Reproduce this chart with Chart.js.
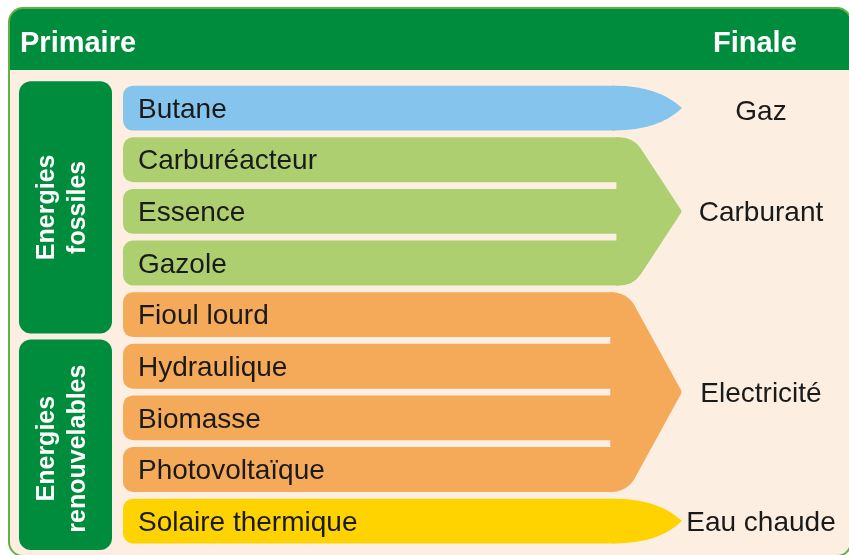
<!DOCTYPE html>
<html>
<head>
<meta charset="utf-8">
<script src="https://cdn.jsdelivr.net/npm/chart.js@4.4.0/dist/chart.umd.min.js"></script>
<style>
  html, body { margin: 0; padding: 0; background: #fff; }
  #flow { display: block; }
</style>
</head>
<body>
<canvas id="flow" width="849" height="555"></canvas>
<script>
// Energies primaires (une ligne par source)
const primarySources = ["Butane", "Carburéacteur", "Essence", "Gazole", "Fioul lourd",
  "Hydraulique", "Biomasse", "Photovoltaïque", "Solaire thermique"];
// longueur des bandes, avant la pointe (echelle 0-100)
const barLengths = [88, 88.8, 88.8, 88.8, 87.7, 87.7, 87.7, 87.7, 88];
const tipValue = 100;

// Energies finales, et combien de sources chacune regroupe
const finalEnergies = ["Gaz", "Carburant", "Electricité", "Eau chaude"];
const finalRowCounts = [1, 3, 4, 1];

// Familles de sources primaires (colonne de gauche)
const primaryFamilies = [["Energies", "fossiles"], ["Energies", "renouvelables"]];
const familyRowCounts = [5, 4];

const headerLabels = ["Primaire", "Finale"];

// styles
const GREEN = "#008c3d";
const CREAM = "#fcefe1";
const groupColors = ["#85c4ed", "#aecf6f", "#f5aa5a", "#ffd300"];
const groupHeads = ["round", "point", "point", "round"];
const FONT = "'Liberation Sans', Arial, sans-serif";

const rowColors = [];
finalRowCounts.forEach((n, g) => { for (let i = 0; i < n; i++) rowColors.push(groupColors[g]); });

function roundRectPath(ctx, x, y, w, h, r) {
  ctx.beginPath();
  ctx.moveTo(x + r, y);
  ctx.arcTo(x + w, y, x + w, y + h, r);
  ctx.arcTo(x + w, y + h, x, y + h, r);
  ctx.arcTo(x, y + h, x, y, r);
  ctx.arcTo(x, y, x + w, y, r);
  ctx.closePath();
}

const diagramPlugin = {
  id: "diagram",
  beforeDraw(chart) {
    const ctx = chart.ctx;
    const yScale = chart.scales.y;
    const pitch = yScale.getPixelForTick(1) - yScale.getPixelForTick(0);
    ctx.save();
    ctx.fillStyle = "#fff";
    ctx.fillRect(0, 0, chart.width, chart.height);

    // cadre + bandeau
    roundRectPath(ctx, 9, 8, 842, 548, 14);
    ctx.fillStyle = CREAM;
    ctx.fill();
    ctx.save();
    ctx.clip();
    ctx.fillStyle = GREEN;
    ctx.fillRect(9, 8, 842, 62);
    ctx.restore();
    roundRectPath(ctx, 9, 8, 842, 548, 14);
    ctx.strokeStyle = "#62b046";
    ctx.lineWidth = 2;
    ctx.stroke();

    ctx.fillStyle = "#fff";
    ctx.font = "bold 29px " + FONT;
    ctx.textBaseline = "alphabetic";
    ctx.textAlign = "left";
    ctx.fillText(headerLabels[0], 20, 52);
    ctx.fillText(headerLabels[1], 713, 52);

    // familles
    let start = 0;
    primaryFamilies.forEach((lines, f) => {
      const n = familyRowCounts[f];
      const top = yScale.getPixelForTick(start) - pitch / 2 - 1;
      const last = f === primaryFamilies.length - 1;
      const bottom = last ? chart.chartArea.bottom + 3 : yScale.getPixelForTick(start + n - 1) + pitch / 2 - 7;
      roundRectPath(ctx, 19, top, 93, bottom - top, 12);
      ctx.fillStyle = GREEN;
      ctx.fill();
      ctx.save();
      ctx.translate(65.5, (top + bottom) / 2 + (last ? 4 : 0));
      ctx.rotate(-Math.PI / 2);
      ctx.fillStyle = "#fff";
      ctx.font = "bold 25px " + FONT;
      ctx.textAlign = "center";
      ctx.fillText(lines[0], 0, -12);
      ctx.fillText(lines[1], 0, 19.5);
      ctx.restore();
      start += n;
    });
    ctx.restore();
  },
  afterDatasetsDraw(chart) {
    const ctx = chart.ctx;
    const bars = chart.getDatasetMeta(0).data;
    const xt = chart.scales.x.getPixelForValue(tipValue);
    ctx.save();
    let start = 0;
    finalRowCounts.forEach((n, g) => {
      const first = bars[start], lastBar = bars[start + n - 1];
      const top = first.y - first.height / 2;
      const bottom = lastBar.y + lastBar.height / 2;
      const mid = (top + bottom) / 2;
      let xs = 0;
      for (let i = start; i < start + n; i++) xs = Math.max(xs, bars[i].x);
      ctx.fillStyle = groupColors[g];
      ctx.beginPath();
      ctx.moveTo(xs - 3, top);
      if (groupHeads[g] === "round") {
        ctx.lineTo(xs, top);
        ctx.quadraticCurveTo(xs + (xt - xs) * 0.65, top, xt, mid);
        ctx.quadraticCurveTo(xs + (xt - xs) * 0.65, bottom, xs, bottom);
      } else {
        const cx = xs + 14;
        ctx.arcTo(cx, top, xt, mid, 26);
        ctx.arcTo(xt, mid, cx, bottom, 3);
        ctx.arcTo(cx, bottom, xs - 3, bottom, 26);
      }
      ctx.lineTo(xs - 3, bottom);
      ctx.closePath();
      ctx.fill();

      // energie finale
      const yScale = chart.scales.y;
      const cy = (yScale.getPixelForTick(start) + yScale.getPixelForTick(start + n - 1)) / 2;
      ctx.fillStyle = "#1a1a1a";
      ctx.font = "28px " + FONT;
      ctx.textAlign = "center";
      ctx.textBaseline = "middle";
      ctx.fillText(finalEnergies[g], 761, cy + (g === 0 ? 4 : 2));
      start += n;
    });
    ctx.restore();
  }
};

new Chart(document.getElementById("flow"), {
  type: "bar",
  data: {
    labels: primarySources,
    datasets: [{
      data: barLengths,
      backgroundColor: rowColors,
      borderWidth: 0,
      borderSkipped: false,
      borderRadius: { topLeft: 10, bottomLeft: 10, topRight: 0, bottomRight: 0 },
      barPercentage: 0.87,
      categoryPercentage: 1
    }]
  },
  options: {
    indexAxis: "y",
    responsive: false,
    animation: false,
    events: [],
    layout: { padding: { left: 123, right: 167, top: 82.3, bottom: 8.1 } },
    plugins: { legend: { display: false }, tooltip: { enabled: false }, title: { display: false } },
    scales: {
      x: { type: "linear", min: 0, max: 100, display: false },
      y: {
        type: "category",
        grid: { display: false, drawTicks: false },
        border: { display: false },
        afterFit(scale) {
          scale.width = 0;
          scale.paddingTop = 0;
          scale.paddingBottom = 0;
        },
        ticks: {
          z: 1,
          mirror: true,
          padding: 15,
          labelOffset: 2,
          autoSkip: false,
          color: "#1a1a1a",
          font: { family: FONT, size: 28 }
        }
      }
    }
  },
  plugins: [diagramPlugin]
});
</script>
</body>
</html>
